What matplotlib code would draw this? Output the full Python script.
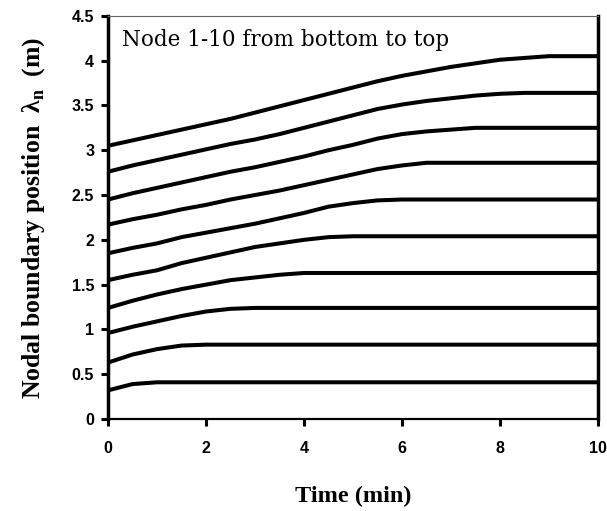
import matplotlib
matplotlib.use("Agg")
import matplotlib.pyplot as plt
from matplotlib.ticker import FormatStrFormatter, MultipleLocator

# time grid (min)
time = [0, 0.5, 1, 1.5, 2, 2.5, 3, 3.5, 4, 4.5, 5,
        5.5, 6, 6.5, 7, 7.5, 8, 8.5, 9, 9.5, 10]

# nodal boundary positions, node 1 (bottom) .. node 10 (top)
node1 = [0.32, 0.39, 0.41, 0.41, 0.41, 0.41, 0.41, 0.41, 0.41, 0.41, 0.41,
         0.41, 0.41, 0.41, 0.41, 0.41, 0.41, 0.41, 0.41, 0.41, 0.41]
node2 = [0.63, 0.72, 0.78, 0.82, 0.83, 0.83, 0.83, 0.83, 0.83, 0.83, 0.83,
         0.83, 0.83, 0.83, 0.83, 0.83, 0.83, 0.83, 0.83, 0.83, 0.83]
node3 = [0.96, 1.03, 1.09, 1.15, 1.20, 1.23, 1.24, 1.24, 1.24, 1.24, 1.24,
         1.24, 1.24, 1.24, 1.24, 1.24, 1.24, 1.24, 1.24, 1.24, 1.24]
node4 = [1.24, 1.32, 1.39, 1.45, 1.50, 1.55, 1.58, 1.61, 1.63, 1.63, 1.63,
         1.63, 1.63, 1.63, 1.63, 1.63, 1.63, 1.63, 1.63, 1.63, 1.63]
node5 = [1.55, 1.61, 1.66, 1.74, 1.80, 1.86, 1.92, 1.96, 2.00, 2.03, 2.04,
         2.04, 2.04, 2.04, 2.04, 2.04, 2.04, 2.04, 2.04, 2.04, 2.04]
node6 = [1.85, 1.91, 1.96, 2.03, 2.08, 2.13, 2.18, 2.24, 2.30, 2.37, 2.41,
         2.44, 2.45, 2.45, 2.45, 2.45, 2.45, 2.45, 2.45, 2.45, 2.45]
node7 = [2.17, 2.23, 2.28, 2.34, 2.39, 2.45, 2.50, 2.55, 2.61, 2.67, 2.73,
         2.79, 2.83, 2.86, 2.86, 2.86, 2.86, 2.86, 2.86, 2.86, 2.86]
node8 = [2.45, 2.52, 2.58, 2.64, 2.70, 2.76, 2.81, 2.87, 2.93, 3.00, 3.06,
         3.13, 3.18, 3.21, 3.23, 3.25, 3.25, 3.25, 3.25, 3.25, 3.25]
node9 = [2.76, 2.83, 2.89, 2.95, 3.01, 3.07, 3.12, 3.18, 3.25, 3.32, 3.39,
         3.46, 3.51, 3.55, 3.58, 3.61, 3.63, 3.64, 3.64, 3.64, 3.64]
node10 = [3.05, 3.11, 3.17, 3.23, 3.29, 3.35, 3.42, 3.49, 3.56, 3.63, 3.70,
          3.77, 3.83, 3.88, 3.93, 3.97, 4.01, 4.03, 4.05, 4.05, 4.05]

nodes = [node1, node2, node3, node4, node5, node6, node7, node8, node9, node10]

fig = plt.figure(figsize=(6.07, 5.11), dpi=100)
ax = fig.add_axes([0.178, 0.180, 0.807, 0.789])

for n in nodes:
    ax.plot(time, n, color="black", lw=2.9, solid_capstyle="butt")

ax.set_xlim(0, 10)
ax.set_ylim(0, 4.5)
ax.xaxis.set_major_locator(MultipleLocator(2))
ax.yaxis.set_major_locator(MultipleLocator(0.5))
ax.yaxis.set_major_formatter(FormatStrFormatter("%g"))

for side in ["left", "right"]:
    ax.spines[side].set_linewidth(2.5)
ax.spines["bottom"].set_linewidth(1.6)
ax.spines["top"].set_linewidth(0.8)
ax.spines["top"].set_color("#666666")

ax.tick_params(axis="both", direction="out", length=5, width=2.2, color="black")
ax.tick_params(axis="x", pad=11)
ax.tick_params(axis="y", pad=5)
for lab in ax.get_xticklabels() + ax.get_yticklabels():
    lab.set_fontfamily("Liberation Sans")
    lab.set_fontweight("bold")
    lab.set_fontsize(11.5)

ax.set_xlabel("Time (min)", family="Liberation Serif", fontweight="bold",
              fontsize=17.5, labelpad=21)
ax.set_ylabel("Nodal boundary position  $\\mathregular{\\lambda}_\\mathregular{n}$  (m)",
              family="Liberation Serif", fontweight="bold", fontsize=18.5, labelpad=18)

ax.text(0.029, 0.94, "Node 1-10 from bottom to top", transform=ax.transAxes,
        family="DejaVu Serif", fontsize=15.5, va="center", ha="left")

fig.savefig("out.png", dpi=100)
